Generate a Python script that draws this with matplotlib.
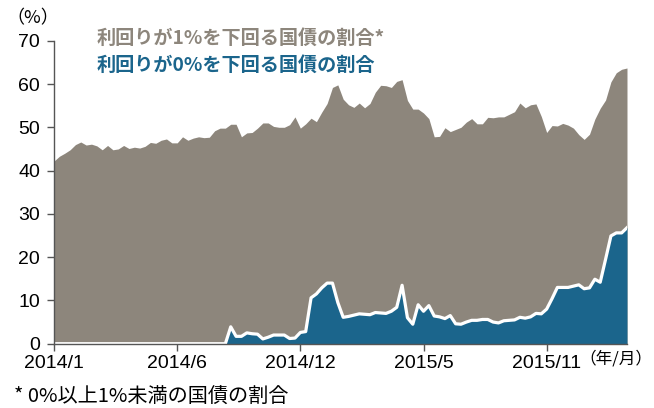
import matplotlib
matplotlib.use("Agg")
import matplotlib.pyplot as plt
import numpy as np

# Share of JGBs with yield below 1% (gray) and below 0% (blue), weekly points
below_1pct = [
    42.2, 43.3, 44.0, 44.8, 46.0, 46.6, 45.9, 46.1, 45.7, 44.8,
    45.8, 44.8, 45.0, 45.8, 45.1, 45.4, 45.2, 45.6, 46.5, 46.3,
    47.0, 47.3, 46.4, 46.4, 47.8, 47.0, 47.5, 47.8, 47.6, 47.7,
    49.2, 49.8, 49.8, 50.7, 50.7, 47.8, 48.7, 48.8, 49.8, 51.0,
    51.0, 50.2, 50.0, 50.0, 50.6, 52.4, 49.8, 50.8, 52.1, 51.3,
    53.5, 55.5, 59.2, 59.8, 56.5, 55.2, 54.6, 55.6, 54.5, 55.5,
    58.1, 59.7, 59.6, 59.2, 60.6, 61.0, 56.2, 54.2, 54.2, 53.3,
    52.0, 47.8, 47.9, 49.9, 49.0, 49.5, 50.0, 51.2, 52.0, 50.8,
    50.8, 52.3, 52.2, 52.4, 52.4, 53.0, 53.6, 55.6, 54.5, 55.2,
    55.4, 52.5, 48.8, 50.4, 50.3, 50.9, 50.5, 49.8, 48.3, 47.2,
    48.4, 51.9, 54.4, 56.3, 60.5, 62.6, 63.4, 63.7,
]
below_0pct = [
    0, 0, 0, 0, 0, 0, 0, 0, 0, 0,
    0, 0, 0, 0, 0, 0, 0, 0, 0, 0,
    0, 0, 0, 0, 0, 0, 0, 0, 0, 0,
    0, 0, 0, 3.9, 1.7, 1.7, 2.5, 2.3, 2.2, 1.1,
    1.5, 2.0, 2.0, 2.0, 1.2, 1.3, 2.6, 2.8, 10.6, 11.5,
    12.9, 14.0, 14.0, 9.5, 6.1, 6.3, 6.6, 6.9, 6.8, 6.7,
    7.2, 7.1, 7.0, 7.5, 8.4, 13.5, 6.0, 4.5, 9.0, 7.5,
    8.8, 6.4, 6.2, 5.8, 6.5, 4.6, 4.5, 5.0, 5.4, 5.4,
    5.6, 5.6, 5.0, 4.8, 5.3, 5.4, 5.5, 6.1, 5.9, 6.2,
    7.0, 6.9, 8.0, 10.4, 13.0, 13.0, 13.0, 13.3, 13.6, 12.7,
    12.9, 14.9, 14.2, 19.5, 24.9, 25.6, 25.6, 26.8,
]
tick_positions = [0, 23, 46, 69, 92]
tick_labels = ["2014/1", "2014/6", "2014/12", "2015/5", "2015/11"]
yticks = [0, 10, 20, 30, 40, 50, 60, 70]

GRAY = "#8D867C"
BLUE = "#1B658C"
LAT = ["Liberation Sans", "Noto Sans CJK JP"]
CJK = ["Noto Sans CJK JP", "DejaVu Sans"]

x = np.arange(len(below_1pct))

fig = plt.figure(figsize=(6.54, 4.08), dpi=100)
ax = fig.add_axes([0.0826, 0.1576, 0.8761, 0.7426])

ax.fill_between(x, 0, below_1pct, color=GRAY, linewidth=0, zorder=1)
ax.fill_between(x, 0, below_0pct, color=BLUE, linewidth=0, zorder=2)
ax.plot(x, below_0pct, color="white", linewidth=2.3, zorder=3,
        solid_joinstyle="round")

ax.set_xlim(0, len(x) - 1)
ax.set_ylim(0, 70)
ax.set_yticks(yticks)
ax.set_yticklabels([str(v) for v in yticks], fontfamily=LAT, fontsize=14)
ax.set_xticks(tick_positions)
ax.set_xticklabels(tick_labels, fontfamily=LAT, fontsize=14)

for s in ["top", "right"]:
    ax.spines[s].set_visible(False)
for s in ["left", "bottom"]:
    ax.spines[s].set_color("#555555")
    ax.spines[s].set_linewidth(1.0)
    ax.spines[s].set_zorder(4)
ax.tick_params(axis="both", direction="out", length=5, width=1.0,
               color="#555555", pad=3)
ax.tick_params(axis="y", pad=5)

fig.text(0.010, 0.955, "（%）", fontfamily=CJK, fontsize=13, ha="left", va="center")
fig.text(0.148, 0.905, "利回りが1%を下回る国債の割合*", fontfamily=CJK,
         fontsize=13.8, fontweight="bold", color=GRAY, ha="left", va="center")
fig.text(0.148, 0.840, "利回りが0%を下回る国債の割合", fontfamily=CJK,
         fontsize=13.8, fontweight="bold", color=BLUE, ha="left", va="center")
fig.text(0.997, 0.120, "（年/月）", fontfamily=CJK, fontsize=12,
         ha="right", va="center")
fig.text(0.022, 0.027, "* 0%以上1%未満の国債の割合", fontfamily=CJK,
         fontsize=14.5, ha="left", va="center")

fig.savefig("out.png", dpi=100)
